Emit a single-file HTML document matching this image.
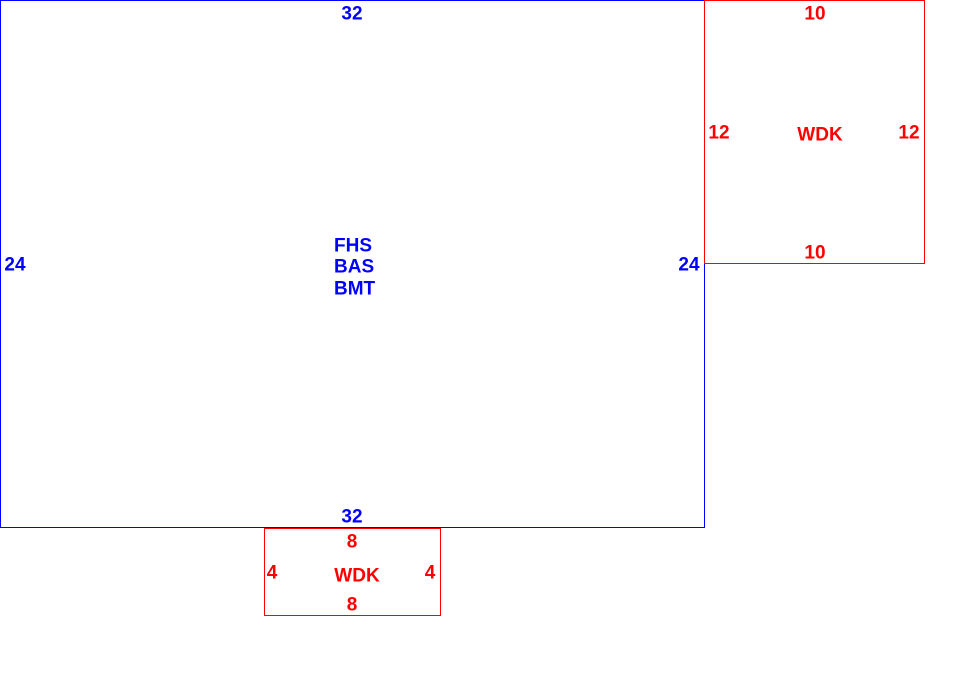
<!DOCTYPE html>
<html><head><meta charset="utf-8"><style>html,body{margin:0;padding:0;background:#fff;}svg{display:block}</style></head>
<body>
<svg width="960" height="677" xmlns="http://www.w3.org/2000/svg" font-family="Liberation Sans, Arial, sans-serif" font-size="19" font-weight="bold">
<rect x="0.5" y="0.5" width="704" height="527" fill="none" stroke="#0000ff" stroke-width="1"/>
<rect x="704.5" y="0.5" width="220" height="263" fill="none" stroke="#ff0000" stroke-width="1"/>
<rect x="264.5" y="528.5" width="176" height="87" fill="none" stroke="#ff0000" stroke-width="1"/>
<g fill="#0000ff" text-anchor="middle" dominant-baseline="central">
<text x="352" y="14">32</text>
<text x="352" y="517">32</text>
<text x="15" y="265">24</text>
<text x="689" y="265">24</text>
</g>
<g fill="#0000ff" dominant-baseline="central">
<text x="334" y="246">FHS</text>
<text x="334" y="267">BAS</text>
<text x="334" y="289">BMT</text>
</g>
<g fill="#ff0000" text-anchor="middle" dominant-baseline="central">
<text x="815" y="14">10</text>
<text x="815" y="253">10</text>
<text x="719" y="133">12</text>
<text x="909" y="133">12</text>
<text x="820" y="135">WDK</text>
<text x="352" y="542">8</text>
<text x="352" y="605">8</text>
<text x="272" y="573">4</text>
<text x="430" y="573">4</text>
<text x="357" y="576">WDK</text>
</g>
</svg>
</body></html>
